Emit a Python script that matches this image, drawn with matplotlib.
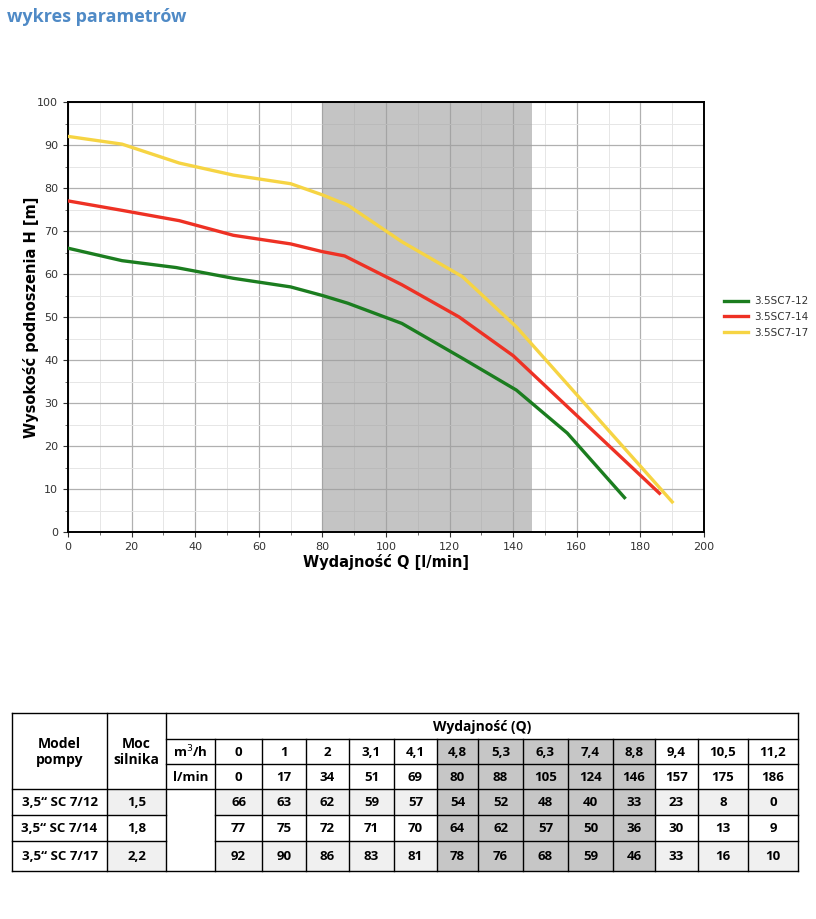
import numpy as np
import matplotlib
matplotlib.use('Agg')
from matplotlib import pyplot as plt
from matplotlib.patches import Rectangle

# chart curves
green_q = [0, 17, 34, 52, 70, 80, 88, 105, 124, 141, 157, 175]
green_h = [66, 63.1, 61.5, 59, 57, 55, 53.2, 48.5, 40.4, 33, 23, 8]
red_q = [0, 17, 35, 52, 70, 80, 87, 105, 123, 140, 186]
red_h = [77, 74.8, 72.4, 69, 67, 65.2, 64.2, 57.5, 50, 41, 9]
yellow_q = [0, 17, 35, 52, 70, 80, 88, 105, 124, 141, 190]
yellow_h = [92, 90.2, 85.8, 83, 81, 78.4, 76, 67.5, 59.4, 47.7, 7]
series_names = ['3.5SC7-12', '3.5SC7-14', '3.5SC7-17']
band = [80, 146]

# table
q_m3h = ['0', '1', '2', '3,1', '4,1', '4,8', '5,3', '6,3', '7,4', '8,8', '9,4', '10,5', '11,2']
q_lmin = ['0', '17', '34', '51', '69', '80', '88', '105', '124', '146', '157', '175', '186']
models = ['3,5“ SC 7/12', '3,5“ SC 7/14', '3,5“ SC 7/17']
power = ['1,5', '1,8', '2,2']
h_712 = [66, 63, 62, 59, 57, 54, 52, 48, 40, 33, 23, 8, 0]
h_714 = [77, 75, 72, 71, 70, 64, 62, 57, 50, 36, 30, 13, 9]
h_717 = [92, 90, 86, 83, 81, 78, 76, 68, 59, 46, 33, 16, 10]
shaded_cols = [5, 6, 7, 8, 9]

W, H = 816, 919
fig = plt.figure(figsize=(W / 100, H / 100), dpi=100)

# background axes in pixel coords for title and table
bg = fig.add_axes([0, 0, 1, 1])
bg.set_xlim(0, W)
bg.set_ylim(H, 0)
bg.axis('off')

bg.text(7, 17, 'wykres parametrów', fontsize=13, fontweight='bold', color='#4f8ac6',
		family='Open Sans', va='center', ha='left')

# ---- chart ----
ax = fig.add_axes([68 / W, (H - 532) / H, 636 / W, 430 / H])
# translucent band over the grid so grid lines stay a bit darker inside it
ax.axvspan(band[0], band[1], color='#9d9d9d', alpha=0.6, zorder=1, lw=0)
ax.plot(green_q, green_h, color='#1b7d1f', lw=2.4, label=series_names[0], zorder=3)
ax.plot(red_q, red_h, color='#ee3124', lw=2.4, label=series_names[1], zorder=3)
ax.plot(yellow_q, yellow_h, color='#f6d443', lw=2.4, label=series_names[2], zorder=3)
ax.set_xlim(0, 200)
ax.set_ylim(0, 100)
ax.set_xticks(np.arange(0, 201, 20))
ax.set_yticks(np.arange(0, 101, 10))
ax.set_xticks(np.arange(0, 201, 10), minor=True)
ax.set_yticks(np.arange(0, 101, 5), minor=True)
ax.grid(which='major', color='#b0b0b0', lw=0.9)
ax.grid(which='minor', color='#e6e6e6', lw=0.7)
ax.set_axisbelow(True)
ax.tick_params(which='major', labelsize=8, colors='#333333', length=3.5, width=0.8)
ax.tick_params(which='minor', length=2, width=0.6, colors='#555555')
for s in ax.spines.values():
	s.set_linewidth(1.4)
	s.set_color('black')
ax.set_xlabel('Wydajność Q [l/min]', fontsize=10.5, fontweight='bold', labelpad=2)
ax.set_ylabel('Wysokość podnoszenia H [m]', fontsize=10.5, fontweight='bold', labelpad=-1)
leg = ax.legend(loc='upper left', bbox_to_anchor=(1.017, 0.57), frameon=False, fontsize=7.5,
	handlelength=2.3, labelspacing=0.55, handletextpad=0.6)
for t in leg.get_texts():
	t.set_color('#333333')

# ---- table ----
col_x = [12, 107, 166, 215, 262, 306, 349, 394, 437, 478, 523, 568, 613, 655, 698, 748, 798]
row_y = [713, 739, 764, 789, 815, 841, 871]
last = len(col_x) - 1
gray = '#c6c6c6'
light = '#f0f0f0'
tfont = dict(family='Open Sans', fontweight='bold', color='black')

def cell(c0, c1, r0, r1, fc):
	bg.add_patch(Rectangle((col_x[c0], row_y[r0]), col_x[c1] - col_x[c0], row_y[r1] - row_y[r0],
		facecolor=fc, edgecolor='none', zorder=1))

def ctext(c0, c1, r0, r1, s, size=9.5):
	bg.text((col_x[c0] + col_x[c1]) / 2, (row_y[r0] + row_y[r1]) / 2 + 1, s, ha='center', va='center',
		fontsize=size, zorder=3, linespacing=1.25, **tfont)

rows = [h_712, h_714, h_717]
for i, vals in enumerate(rows):
	r = 3 + i
	if i != 1:
		cell(1, 2, r, r + 1, light)
	for j, v in enumerate(vals):
		c = 3 + j
		if j in shaded_cols:
			cell(c, c + 1, r, r + 1, gray)
		elif i != 1:
			cell(c, c + 1, r, r + 1, light)
		ctext(c, c + 1, r, r + 1, str(v))
	ctext(0, 1, r, r + 1, models[i])
	ctext(1, 2, r, r + 1, power[i])
for j in range(len(q_m3h)):
	c = 3 + j
	if j in shaded_cols:
		cell(c, c + 1, 1, 3, gray)
	ctext(c, c + 1, 1, 2, q_m3h[j])
	ctext(c, c + 1, 2, 3, q_lmin[j])
ctext(2, 3, 1, 2, 'm$^3$/h')
ctext(2, 3, 2, 3, 'l/min')
ctext(0, 1, 0, 3, 'Model\npompy', 10)
ctext(1, 2, 0, 3, 'Moc\nsilnika', 10)
ctext(2, last, 0, 1, 'Wydajność (Q)', 10)

lk = dict(color='black', lw=1.0, zorder=2)
bg.plot([col_x[0], col_x[-1]], [row_y[0], row_y[0]], **lk)
bg.plot([col_x[0], col_x[-1]], [row_y[-1], row_y[-1]], **lk)
bg.plot([col_x[2], col_x[-1]], [row_y[1], row_y[1]], **lk)
bg.plot([col_x[2], col_x[-1]], [row_y[2], row_y[2]], **lk)
bg.plot([col_x[0], col_x[-1]], [row_y[3], row_y[3]], **lk)
for r in (4, 5):
	bg.plot([col_x[0], col_x[2]], [row_y[r], row_y[r]], **lk)
	bg.plot([col_x[3], col_x[-1]], [row_y[r], row_y[r]], **lk)
for k, x in enumerate(col_x):
	if k in (0, 1, 2, last):
		bg.plot([x, x], [row_y[0], row_y[-1]], **lk)
	else:
		bg.plot([x, x], [row_y[1], row_y[-1]], **lk)

fig.savefig('out.png', dpi=100)
